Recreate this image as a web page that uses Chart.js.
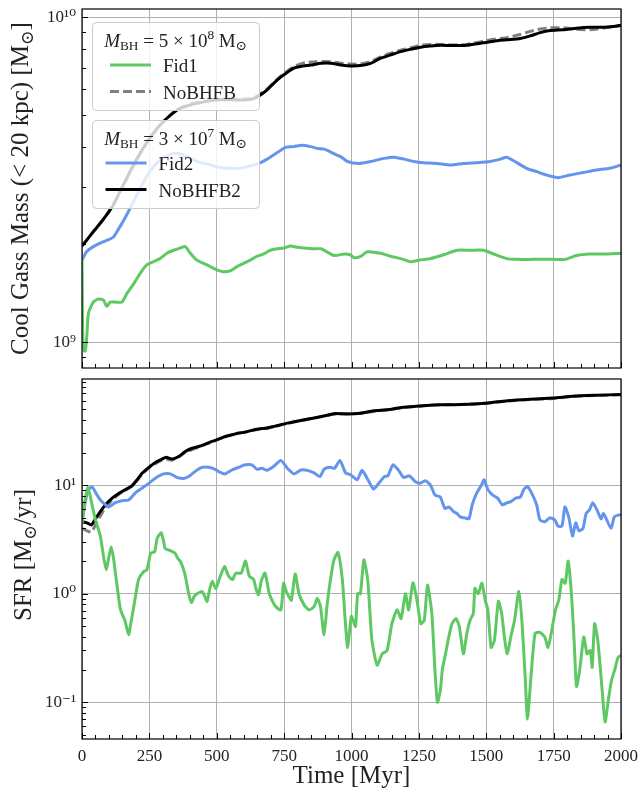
<!DOCTYPE html>
<html>
<head>
<meta charset="utf-8">
<script src="https://cdn.jsdelivr.net/npm/chart.js@4.4.1/dist/chart.umd.min.js"></script>
<style>
  html, body { margin: 0; padding: 0; background: #fff; }
  #massChart { position: absolute; left: 0; top: 0; }
  #sfrChart { position: absolute; left: 0; top: 375px; }
</style>
</head>
<body>
<canvas id="massChart" width="638" height="375"></canvas>
<canvas id="sfrChart" width="638" height="417"></canvas>
<script>
const serif = '"Liberation Serif", "DejaVu Serif", serif';
const green = '#5ec962';
const blue = '#6495ed';
const grey = '#808080';
const black = '#000000';
const gridGrey = '#b0b0b0';

// x axis (Myr)
const xMin = 0, xMax = 2000;
const xLabelTicks = [0, 250, 500, 750, 1000, 1250, 1500, 1750, 2000];

// ---- top panel: cool gas mass within 20 kpc, units of 1e9 Msun ----
const massRange = [0.834, 10.6];
const massDecades = [1, 10];
const massDecadeLabels = ['10⁹', '10¹⁰'];

const fid1MassT = [0, 4, 12, 18, 24, 42, 61, 79, 92, 104, 123, 148, 166, 191, 216, 240, 265, 290, 315, 340, 364, 383, 402, 426, 451, 476, 500, 525, 550, 575, 600, 625, 649, 674, 699, 724, 749, 774, 798, 823, 860, 887, 936, 973, 995, 1010, 1034, 1059, 1108, 1145, 1182, 1219, 1250, 1293, 1342, 1392, 1441, 1490, 1527, 1576, 1613, 1675, 1749, 1792, 1835, 1884, 1933, 2000];
const fid1Mass = [1.80, 0.95, 0.94, 1.05, 1.23, 1.33, 1.36, 1.35, 1.29, 1.33, 1.33, 1.33, 1.41, 1.51, 1.63, 1.73, 1.77, 1.81, 1.88, 1.92, 1.95, 1.97, 1.88, 1.79, 1.75, 1.71, 1.67, 1.65, 1.66, 1.71, 1.75, 1.79, 1.84, 1.87, 1.92, 1.94, 1.95, 1.98, 1.96, 1.95, 1.94, 1.94, 1.85, 1.87, 1.86, 1.82, 1.84, 1.90, 1.88, 1.84, 1.81, 1.77, 1.79, 1.81, 1.86, 1.92, 1.92, 1.92, 1.87, 1.81, 1.80, 1.80, 1.80, 1.80, 1.85, 1.87, 1.87, 1.88];

const fid2MassT = [0, 17, 42, 67, 92, 117, 141, 166, 191, 216, 240, 265, 290, 315, 340, 364, 389, 414, 439, 464, 488, 513, 538, 563, 587, 612, 637, 662, 687, 711, 736, 755, 786, 817, 848, 873, 899, 936, 961, 985, 1028, 1071, 1121, 1158, 1195, 1232, 1268, 1318, 1367, 1416, 1466, 1515, 1552, 1576, 1613, 1650, 1687, 1724, 1767, 1810, 1860, 1909, 1958, 2000];
const fid2Mass = [1.79, 1.90, 1.97, 2.02, 2.06, 2.11, 2.27, 2.47, 2.71, 2.98, 3.24, 3.47, 3.64, 3.74, 3.82, 3.80, 3.72, 3.64, 3.57, 3.54, 3.49, 3.45, 3.43, 3.43, 3.43, 3.47, 3.51, 3.57, 3.66, 3.77, 3.89, 3.98, 4.00, 4.04, 4.00, 3.95, 3.93, 3.80, 3.72, 3.60, 3.55, 3.60, 3.68, 3.71, 3.66, 3.60, 3.57, 3.55, 3.51, 3.55, 3.57, 3.60, 3.66, 3.71, 3.57, 3.43, 3.35, 3.27, 3.21, 3.27, 3.33, 3.39, 3.43, 3.51];

const noFb2MassT = [0, 17, 42, 67, 92, 117, 141, 166, 191, 216, 240, 265, 290, 315, 340, 364, 389, 414, 439, 464, 488, 513, 563, 612, 637, 662, 687, 711, 736, 761, 786, 811, 850, 887, 924, 961, 998, 1034, 1071, 1108, 1145, 1182, 1219, 1256, 1293, 1330, 1379, 1428, 1478, 1527, 1576, 1626, 1663, 1700, 1737, 1786, 1835, 1884, 1934, 1970, 2000];
const noFb2Mass = [1.98, 2.06, 2.19, 2.32, 2.47, 2.65, 2.91, 3.20, 3.51, 3.82, 4.11, 4.40, 4.66, 4.89, 5.09, 5.25, 5.33, 5.41, 5.46, 5.51, 5.55, 5.57, 5.57, 5.57, 5.62, 5.77, 5.98, 6.26, 6.53, 6.76, 6.97, 7.05, 7.13, 7.22, 7.22, 7.13, 7.08, 7.10, 7.21, 7.48, 7.66, 7.84, 7.97, 8.09, 8.16, 8.20, 8.18, 8.20, 8.32, 8.44, 8.52, 8.60, 8.76, 8.97, 9.10, 9.15, 9.25, 9.31, 9.31, 9.36, 9.45];

const noFbMassT = [0, 42, 92, 141, 191, 240, 290, 340, 389, 439, 488, 538, 587, 637, 687, 736, 786, 830, 870, 924, 961, 998, 1034, 1071, 1108, 1145, 1182, 1219, 1256, 1293, 1330, 1379, 1428, 1478, 1527, 1576, 1626, 1663, 1700, 1737, 1786, 1835, 1884, 1934, 1970, 2000];
const noFbMass = [1.98, 2.19, 2.47, 2.90, 3.50, 4.10, 4.66, 5.10, 5.36, 5.50, 5.58, 5.60, 5.60, 5.66, 6.02, 6.58, 7.05, 7.25, 7.30, 7.30, 7.22, 7.18, 7.18, 7.30, 7.55, 7.75, 7.92, 8.05, 8.20, 8.25, 8.25, 8.22, 8.25, 8.40, 8.55, 8.65, 8.85, 9.05, 9.20, 9.28, 9.28, 9.18, 9.15, 9.25, 9.35, 9.42];

// ---- bottom panel: star formation rate, Msun/yr ----
const sfrRange = [0.0459, 95.1];
const sfrDecades = [0.1, 1, 10];
const sfrDecadeLabels = ['10⁻¹', '10⁰', '10¹'];

const fid1SfrT = [0, 10, 22, 35, 50, 68, 80, 90, 100, 108, 116, 124, 134, 143, 159, 173, 182, 192, 200, 210, 229, 241, 254, 262, 270, 279, 294, 302, 309, 328, 346, 356, 365, 381, 396, 406, 417, 427, 445, 455, 464, 474, 483, 497, 513, 529, 537, 544, 559, 567, 575, 591, 606, 614, 621, 637, 646, 655, 665, 679, 695, 707, 719, 738, 748, 758, 768, 777, 791, 805, 824, 842, 861, 873, 885, 898, 910, 922, 935, 950, 966, 976, 986, 999, 1008, 1015, 1023, 1033, 1046, 1060, 1068, 1076, 1095, 1114, 1132, 1150, 1169, 1184, 1200, 1212, 1228, 1243, 1257, 1270, 1282, 1298, 1310, 1319, 1330, 1337, 1349, 1361, 1373, 1388, 1400, 1415, 1428, 1440, 1452, 1458, 1470, 1484, 1496, 1506, 1518, 1530, 1545, 1557, 1569, 1578, 1591, 1605, 1621, 1633, 1645, 1653, 1665, 1681, 1699, 1717, 1729, 1741, 1757, 1769, 1781, 1793, 1804, 1816, 1826, 1835, 1847, 1862, 1874, 1886, 1893, 1902, 1914, 1929, 1941, 1953, 1965, 1977, 1989, 2000];
const fid1Sfr = [4.5, 7.0, 9.6, 7.0, 4.8, 3.4, 2.2, 1.66, 2.2, 2.7, 2.2, 1.55, 1.0, 0.71, 0.57, 0.42, 0.55, 0.76, 1.0, 1.35, 1.6, 1.66, 2.35, 2.4, 2.45, 3.25, 3.65, 3.1, 2.6, 2.5, 2.35, 2.1, 1.99, 1.55, 1.0, 0.83, 0.95, 1.0, 1.05, 0.95, 0.85, 1.1, 1.3, 1.12, 1.45, 1.78, 1.6, 1.45, 1.35, 1.5, 1.55, 1.55, 2.0, 1.7, 1.45, 1.35, 1.1, 0.98, 1.3, 1.55, 1.0, 0.85, 0.76, 0.71, 1.25, 1.05, 0.94, 0.87, 1.52, 1.0, 0.79, 0.71, 0.76, 0.91, 0.76, 0.42, 0.81, 1.35, 2.05, 2.4, 1.35, 0.6, 0.32, 0.62, 0.55, 0.5, 1.0, 1.0, 2.05, 1.35, 0.7, 0.37, 0.22, 0.28, 0.3, 0.53, 0.71, 0.59, 1.0, 0.71, 1.26, 0.87, 0.53, 0.57, 1.2, 0.66, 0.19, 0.1, 0.13, 0.2, 0.28, 0.4, 0.53, 0.59, 0.5, 0.28, 0.43, 0.57, 0.66, 1.12, 1.0, 1.25, 0.87, 0.71, 0.32, 0.37, 0.85, 0.66, 0.37, 0.28, 0.4, 0.57, 1.05, 0.53, 0.16, 0.07, 0.16, 0.43, 0.44, 0.4, 0.32, 0.43, 0.71, 0.87, 1.35, 1.25, 2.0, 1.0, 0.37, 0.14, 0.2, 0.4, 0.28, 0.3, 0.21, 0.53, 0.37, 0.14, 0.066, 0.105, 0.16, 0.2, 0.26, 0.27];

const fid2SfrT = [0, 10, 22, 38, 56, 70, 81, 99, 112, 124, 149, 173, 198, 223, 248, 272, 303, 328, 352, 377, 396, 420, 445, 470, 494, 513, 531, 556, 581, 606, 630, 649, 668, 686, 707, 738, 762, 787, 812, 836, 861, 883, 898, 922, 937, 957, 978, 996, 1021, 1039, 1058, 1082, 1101, 1122, 1135, 1154, 1175, 1193, 1215, 1236, 1255, 1273, 1292, 1310, 1329, 1347, 1361, 1379, 1391, 1403, 1421, 1436, 1448, 1464, 1482, 1492, 1506, 1524, 1542, 1560, 1578, 1593, 1609, 1627, 1639, 1653, 1669, 1687, 1699, 1717, 1735, 1754, 1766, 1781, 1792, 1806, 1820, 1832, 1844, 1859, 1871, 1883, 1895, 1911, 1926, 1935, 1947, 1963, 1975, 1989, 2000];
const fid2Sfr = [4.5, 6.5, 9.0, 9.6, 8.1, 7.2, 6.8, 6.3, 6.6, 6.9, 7.2, 7.3, 8.5, 9.4, 10.4, 11.6, 12.7, 12.7, 11.8, 11.5, 12.0, 13.4, 14.6, 14.6, 14.0, 13.1, 12.7, 13.8, 14.6, 15.4, 15.4, 14.0, 14.3, 13.7, 14.6, 16.9, 14.3, 12.7, 13.8, 13.7, 13.0, 12.0, 14.0, 14.6, 14.3, 16.9, 13.0, 12.5, 11.2, 13.7, 11.6, 9.2, 10.4, 12.0, 12.2, 15.4, 13.7, 11.8, 12.2, 10.8, 10.4, 11.0, 10.1, 8.1, 7.8, 6.1, 6.3, 5.7, 5.5, 5.1, 5.0, 4.9, 6.6, 8.4, 10.0, 11.2, 9.1, 8.1, 7.6, 6.6, 6.9, 7.1, 7.6, 7.8, 9.1, 9.7, 8.4, 6.6, 4.8, 4.6, 5.0, 4.8, 4.2, 4.2, 6.3, 5.1, 3.4, 4.5, 3.8, 4.0, 5.5, 5.9, 6.9, 5.9, 4.9, 5.5, 4.8, 4.0, 5.1, 5.3, 5.3];

const noFb2SfrT = [0, 19, 35, 50, 68, 87, 112, 136, 161, 186, 204, 223, 248, 272, 297, 312, 334, 359, 383, 408, 433, 458, 482, 507, 532, 556, 581, 606, 630, 655, 686, 713, 762, 812, 861, 910, 935, 984, 1033, 1082, 1132, 1181, 1230, 1280, 1329, 1409, 1500, 1578, 1663, 1748, 1820, 1905, 2000];
const noFb2Sfr = [4.6, 4.5, 4.3, 4.9, 5.7, 6.6, 7.6, 8.4, 9.1, 9.9, 11.2, 12.9, 14.6, 16.2, 17.4, 18.1, 17.4, 18.4, 20.4, 21.9, 22.7, 23.9, 25.3, 26.6, 28.1, 29.1, 30.2, 30.8, 32.0, 32.9, 33.6, 34.8, 37.3, 39.5, 41.5, 44.0, 45.6, 45.3, 46.0, 48.5, 49.5, 51.7, 53.0, 54.3, 55.0, 55.5, 57.0, 60.0, 62.0, 63.4, 65.9, 67.3, 68.5];

const noFbSfrT = [0, 19, 35, 50, 68, 87, 112, 136, 161, 186, 204, 223, 248, 272, 297, 312, 334, 359, 383, 433, 482, 532, 581, 630, 686, 762, 861, 935, 1033, 1132, 1230, 1329, 1409, 1500, 1578, 1663, 1748, 1820, 1905, 2000];
const noFbSfr = [4.0, 3.8, 3.7, 4.3, 5.2, 6.2, 7.3, 8.2, 9.0, 9.8, 11.0, 12.6, 14.4, 15.8, 17.0, 17.4, 17.0, 18.2, 20.0, 22.5, 25.0, 28.0, 30.0, 31.8, 33.5, 37.0, 41.5, 45.0, 46.0, 49.5, 53.0, 55.0, 55.5, 57.0, 59.5, 61.5, 63.0, 65.5, 67.0, 68.0];

function pairs(t, v) {
    return t.map((x, i) => ({ x: x, y: v[i] }));
}

function isDecade(v) {
    const l = Math.log10(v);
    return Math.abs(l - Math.round(l)) < 1e-6;
}

// 1..9 x each decade, kept inside the axis range
function logTicks(range) {
    const out = [];
    for (let e = Math.floor(Math.log10(range[0])); e <= Math.ceil(Math.log10(range[1])); e++) {
        for (let m = 1; m < 10; m++) {
            const v = parseFloat((m * Math.pow(10, e)).toPrecision(6));
            if (v >= range[0] && v <= range[1]) out.push(v);
        }
    }
    return out;
}

// no label overhang padding, so the plot box lands where matplotlib put it
function noOverhang(s) {
    s.paddingTop = 0;
    s.paddingBottom = 0;
    s.paddingLeft = 0;
    s.paddingRight = 0;
}

// text with italic / sub / superscript pieces
function drawRich(ctx, parts, x, y, size, align) {
    const items = parts.map(p => {
        const s = (p.sub || p.sup) ? size * 0.7 : size;
        const font = (p.it ? 'italic ' : '') + s + 'px ' + serif;
        ctx.font = font;
        return { t: p.t, font: font, w: ctx.measureText(p.t).width, dy: p.sub ? size * 0.2 : (p.sup ? -size * 0.4 : 0) };
    });
    const total = items.reduce((a, b) => a + b.w, 0);
    let cx = align === 'center' ? x - total / 2 : x;
    ctx.textAlign = 'left';
    ctx.textBaseline = 'alphabetic';
    items.forEach(it => {
        ctx.font = it.font;
        ctx.fillText(it.t, cx, y + it.dy);
        cx += it.w;
    });
}

function lineStyle(label, color, dashed) {
    return {
        label: label,
        borderColor: color,
        backgroundColor: color,
        borderWidth: 3,
        borderDash: dashed ? [9, 4] : [],
        pointRadius: 0,
        tension: 0.2,
        fill: false
    };
}

// frame, inward ticks, legends and y title (matplotlib look)
const axesDecor = {
    id: 'axesDecor',
    afterDraw(chart, args, opts) {
        const { ctx, chartArea: a, scales } = chart;
        ctx.save();
        ctx.strokeStyle = '#000';
        ctx.lineWidth = 1;
        ctx.setLineDash([]);
        ctx.beginPath();
        scales.x.ticks.forEach(tk => {
            const px = Math.round(scales.x.getPixelForValue(tk.value)) + 0.5;
            const len = tk.value % 250 === 0 ? 6 : 4;
            ctx.moveTo(px, a.bottom);
            ctx.lineTo(px, a.bottom - len);
        });
        scales.y.ticks.forEach(tk => {
            const py = Math.round(scales.y.getPixelForValue(tk.value)) + 0.5;
            const len = isDecade(tk.value) ? 6 : 4;
            ctx.moveTo(a.left, py);
            ctx.lineTo(a.left + len, py);
        });
        ctx.stroke();
        ctx.lineWidth = 1.2;
        ctx.strokeRect(a.left, a.top, a.right - a.left, a.bottom - a.top);

        (opts.legends || []).forEach(lg => {
            const bx = a.left + lg.dx, by = a.top + lg.dy;
            ctx.fillStyle = 'rgba(255,255,255,0.8)';
            ctx.strokeStyle = '#cccccc';
            ctx.lineWidth = 1;
            ctx.beginPath();
            ctx.roundRect(bx + 0.5, by + 0.5, lg.w, lg.h, 4);
            ctx.fill();
            ctx.stroke();
            ctx.fillStyle = '#222';
            drawRich(ctx, lg.title, bx + lg.w / 2, by + 24.5, 19, 'center');
            lg.items.forEach((name, i) => {
                const ds = chart.data.datasets.find(d => d.label === name);
                const ry = by + 43 + i * 26.5;
                ctx.strokeStyle = ds.borderColor;
                ctx.lineWidth = ds.borderWidth;
                ctx.setLineDash(ds.borderDash);
                ctx.beginPath();
                ctx.moveTo(bx + lg.lineX, ry);
                ctx.lineTo(bx + lg.lineX + 41, ry);
                ctx.stroke();
                ctx.setLineDash([]);
                ctx.fillStyle = '#222';
                ctx.font = '19px ' + serif;
                ctx.textAlign = 'left';
                ctx.textBaseline = 'alphabetic';
                ctx.fillText(name, bx + lg.lineX + 53, ry + 7);
            });
        });

        if (opts.yTitle) {
            ctx.translate(opts.yTitleX, (a.top + a.bottom) / 2 + opts.yTitleShift);
            ctx.rotate(-Math.PI / 2);
            ctx.fillStyle = '#222';
            drawRich(ctx, opts.yTitle, 0, 0, 25, 'center');
        }
        ctx.restore();
    }
};

function xScale(showLabels) {
    return {
        type: 'linear',
        min: xMin,
        max: xMax,
        afterBuildTicks: s => {
            const t = [];
            for (let v = xMin; v <= xMax; v += 50) t.push({ value: v });
            s.ticks = t;
        },
        afterFit: s => {
            s.height = showLabels ? 53 : 0;
            noOverhang(s);
        },
        border: { display: false },
        grid: {
            drawTicks: false,
            lineWidth: 1,
            color: c => (c.tick && xLabelTicks.includes(c.tick.value)) ? gridGrey : 'rgba(0,0,0,0)'
        },
        ticks: {
            display: showLabels,
            autoSkip: false,
            maxRotation: 0,
            padding: 7,
            color: '#222',
            font: { family: serif, size: 17 },
            callback: v => xLabelTicks.includes(v) ? String(v) : ''
        },
        title: {
            display: showLabels,
            text: 'Time [Myr]',
            color: '#222',
            font: { family: serif, size: 25 },
            padding: { top: 0, bottom: 1 }
        }
    };
}

function yScale(range, decades, decadeLabels) {
    return {
        type: 'logarithmic',
        min: range[0],
        max: range[1],
        afterBuildTicks: s => { s.ticks = logTicks(range).map(v => ({ value: v })); },
        afterFit: s => {
            s.width = 82;
            noOverhang(s);
        },
        border: { display: false },
        grid: {
            drawTicks: false,
            lineWidth: 1,
            color: c => (c.tick && isDecade(c.tick.value)) ? gridGrey : 'rgba(0,0,0,0)'
        },
        ticks: {
            autoSkip: false,
            padding: 6,
            color: '#222',
            font: { family: serif, size: 17 },
            callback: v => {
                const i = decades.findIndex(d => Math.abs(d - v) / d < 1e-6);
                return i >= 0 ? decadeLabels[i] : '';
            }
        }
    };
}

const msun = '⊙';

// first dataset is drawn on top in Chart.js
new Chart(document.getElementById('massChart'), {
    type: 'line',
    data: {
        datasets: [
            Object.assign(lineStyle('Fid1', green, false), { data: pairs(fid1MassT, fid1Mass) }),
            Object.assign(lineStyle('Fid2', blue, false), { data: pairs(fid2MassT, fid2Mass) }),
            Object.assign(lineStyle('NoBHFB2', black, false), { data: pairs(noFb2MassT, noFb2Mass) }),
            Object.assign(lineStyle('NoBHFB', grey, true), { data: pairs(noFbMassT, noFbMass) })
        ]
    },
    options: {
        responsive: false,
        animation: false,
        layout: { padding: { top: 9, right: 17, bottom: 7, left: 0 } },
        scales: {
            x: xScale(false),
            y: yScale(massRange, massDecades, massDecadeLabels)
        },
        plugins: {
            legend: { display: false },
            tooltip: { enabled: false },
            axesDecor: {
                legends: [
                    {
                        dx: 10, dy: 13, w: 167, h: 88, lineX: 18,
                        title: [{ t: 'M', it: true }, { t: 'BH', sub: true }, { t: ' = 5 × 10' }, { t: '8', sup: true }, { t: ' M' }, { t: msun, sub: true }],
                        items: ['Fid1', 'NoBHFB']
                    },
                    {
                        dx: 10, dy: 111, w: 167, h: 88, lineX: 13.5,
                        title: [{ t: 'M', it: true }, { t: 'BH', sub: true }, { t: ' = 3 × 10' }, { t: '7', sup: true }, { t: ' M' }, { t: msun, sub: true }],
                        items: ['Fid2', 'NoBHFB2']
                    }
                ],
                yTitle: [{ t: 'Cool Gass Mass (< 20 kpc) [M' }, { t: msun, sub: true }, { t: ']' }],
                yTitleX: 28,
                yTitleShift: 0
            }
        }
    },
    plugins: [axesDecor]
});

new Chart(document.getElementById('sfrChart'), {
    type: 'line',
    data: {
        datasets: [
            Object.assign(lineStyle('Fid1', green, false), { data: pairs(fid1SfrT, fid1Sfr) }),
            Object.assign(lineStyle('Fid2', blue, false), { data: pairs(fid2SfrT, fid2Sfr) }),
            Object.assign(lineStyle('NoBHFB2', black, false), { data: pairs(noFb2SfrT, noFb2Sfr) }),
            Object.assign(lineStyle('NoBHFB', grey, true), { data: pairs(noFbSfrT, noFbSfr) })
        ]
    },
    options: {
        responsive: false,
        animation: false,
        layout: { padding: { top: 4, right: 17, bottom: 0, left: 0 } },
        scales: {
            x: xScale(true),
            y: yScale(sfrRange, sfrDecades, sfrDecadeLabels)
        },
        plugins: {
            legend: { display: false },
            tooltip: { enabled: false },
            axesDecor: {
                yTitle: [{ t: 'SFR [M' }, { t: msun, sub: true }, { t: '/yr]' }],
                yTitleX: 31,
                yTitleShift: -4
            }
        }
    },
    plugins: [axesDecor]
});
</script>
</body>
</html>
